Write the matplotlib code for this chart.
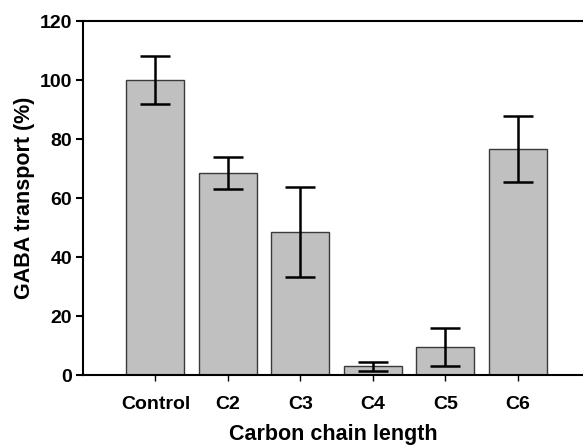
import matplotlib
matplotlib.use("Agg")
import matplotlib.pyplot as plt
import numpy as np

categories = ["Control", "C2", "C3", "C4", "C5", "C6"]
transport = [100, 68.5, 48.6, 3.0, 9.6, 76.6]
err_upper = [8.2, 5.3, 15.2, 1.4, 6.4, 11.3]
err_lower = [8.2, 5.3, 15.5, 1.5, 6.6, 11.1]

plt.rcParams["font.family"] = ["Liberation Sans", "DejaVu Sans"]
plt.rcParams["font.weight"] = "bold"

fig = plt.figure(figsize=(5.83, 4.47), dpi=100)
ax = fig.add_axes([0.1424, 0.161, 0.8576, 0.792])

x = np.arange(len(categories))
ax.bar(x, transport, width=0.8, color="#c0c0c0", edgecolor="#3a3a3a", linewidth=1.0, zorder=2)
ax.errorbar(x, transport, yerr=[err_lower, err_upper], fmt="none", ecolor="black",
            elinewidth=1.8, capsize=11, capthick=1.8, zorder=3)

ax.set_xlim(-1, 5.9)
ax.set_ylim(0, 120)
ax.set_yticks(range(0, 121, 20))
ax.set_xticks(x)
ax.set_xticklabels(categories)
ax.spines["right"].set_visible(False)
for s in ["left", "bottom", "top"]:
    ax.spines[s].set_linewidth(1.5)
ax.tick_params(axis="y", direction="out", length=5, width=1.5, labelsize=14, pad=3)
ax.tick_params(axis="x", direction="out", length=4, width=1.0, labelsize=14, pad=11)
for lab in ax.get_xticklabels() + ax.get_yticklabels():
    lab.set_fontweight("bold")

ax.set_xlabel("Carbon chain length", fontsize=15.5, fontweight="bold", labelpad=8)
ax.set_ylabel("GABA transport (%)", fontsize=15.5, fontweight="bold", labelpad=3)

fig.savefig("out.png", dpi=100)
